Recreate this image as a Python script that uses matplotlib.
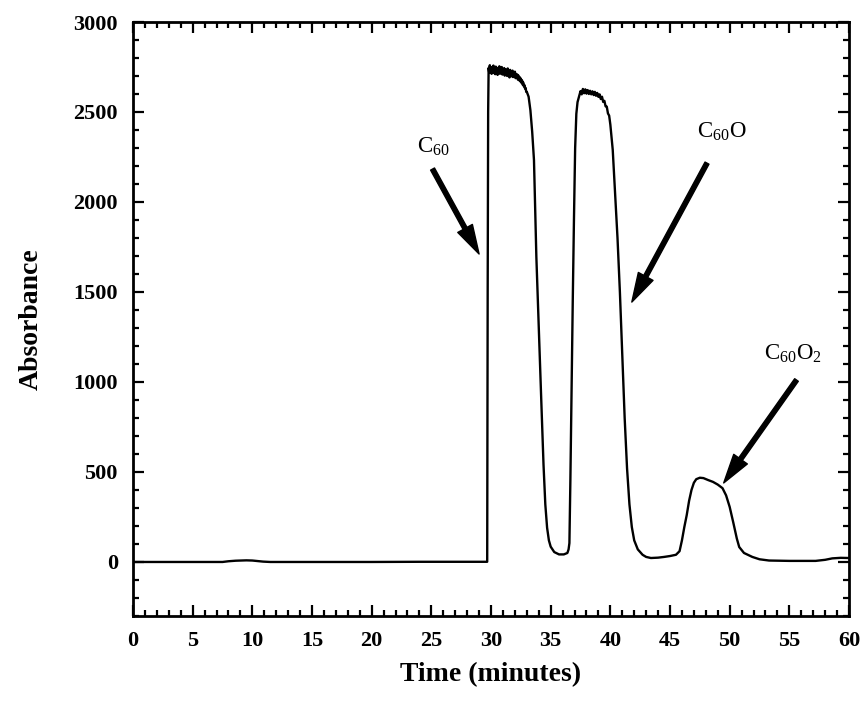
import numpy as np
import matplotlib
matplotlib.use("Agg")
import matplotlib.pyplot as plt

plt.rcParams['font.family'] = ['Liberation Serif', 'DejaVu Serif']
plt.rcParams['mathtext.default'] = 'regular'

# ---- chromatogram trace (time in minutes, absorbance) ----
base_t = [0, 7.5, 8.0, 8.6, 9.0, 9.5, 10.0, 10.5, 10.9, 11.5, 20.0, 24.0, 29.68]
base_a = [0, 0, 4, 7, 8, 9, 8, 5, 2, 0, 0, 1, 1]

rise1_t = [29.72, 29.76]
rise1_a = [1500, 2500]

# noisy top of the C60 peak, every 0.05 min from 29.80 to 33.00
top1_t = [29.8 + 0.05 * i for i in range(65)]
top1_a = [2745, 2718, 2760, 2722, 2750, 2712, 2748, 2730, 2758, 2716,
          2744, 2710, 2752, 2726, 2740, 2706, 2746, 2724, 2754, 2712,
          2742, 2718, 2750, 2708, 2736, 2720, 2744, 2702, 2738, 2712,
          2730, 2700, 2742, 2706, 2728, 2692, 2734, 2710, 2726, 2698,
          2730, 2694, 2720, 2700, 2724, 2688, 2712, 2690, 2708, 2680,
          2702, 2676, 2694, 2670, 2686, 2662, 2676, 2652, 2664, 2642,
          2650, 2630, 2634, 2612, 2612]

fall1_t = [33.15, 33.3, 33.45, 33.6, 33.7, 33.8, 34.0, 34.2, 34.4, 34.55,
           34.7, 34.85, 35.0, 35.3, 35.7, 36.1, 36.4, 36.5, 36.57, 36.65,
           36.75, 36.85, 36.95, 37.05, 37.15, 37.25, 37.35]
fall1_a = [2585, 2510, 2390, 2233, 1960, 1694, 1300, 920, 540, 320,
           190, 120, 85, 55, 42, 42, 50, 70, 105, 450,
           950, 1450, 1900, 2300, 2490, 2555, 2580]

# noisy top of the C60O peak, every 0.1 min from 37.4 to 40.0
top2_t = [37.4 + 0.1 * i for i in range(27)]
top2_a = [2592, 2616, 2598, 2628, 2604, 2626, 2602, 2622, 2600, 2618, 2598,
          2615, 2594, 2612, 2590, 2606, 2584, 2598, 2572, 2585, 2556, 2562,
          2532, 2530, 2492, 2480, 2430]

tail_t = [40.2, 40.4, 40.6, 40.8, 41.0, 41.2, 41.4, 41.6, 41.8, 42.0, 42.3,
          42.7, 43.0, 43.4, 44.0, 44.5, 45.0, 45.5, 45.8, 46.0, 46.2, 46.4,
          46.6, 46.8, 47.0, 47.2, 47.5, 47.8, 48.2, 48.6, 49.0, 49.4, 49.7,
          50.0, 50.3, 50.6, 50.8, 51.2, 51.9, 52.5, 53.3, 55.0, 57.2, 58.0,
          58.6, 59.3, 60.0]
tail_a = [2290, 2050, 1800, 1500, 1150, 800, 520, 320, 194, 120, 70,
          40, 28, 22, 24, 28, 33, 40, 60, 120, 194, 260,
          340, 400, 440, 460, 468, 466, 455, 445, 430, 410, 370,
          306, 220, 130, 83, 50, 28, 15, 8, 6, 6, 12,
          20, 23, 22]

time = np.array(base_t + rise1_t + top1_t + fall1_t + top2_t + tail_t)
absorb = np.array(base_a + rise1_a + top1_a + fall1_a + top2_a + tail_a)

# peak labels: (text, text position, arrow tail, arrow head)
labels = ['C$_{60}$', 'C$_{60}$O', 'C$_{60}$O$_2$']
text_xy = [(23.8, 2272), (47.3, 2355), (52.9, 1122)]
tail_xy = [(25.1, 2183), (48.1, 2216), (55.6, 1011)]
head_xy = [(29.0, 1711), (41.8, 1444), (49.5, 439)]

fig = plt.figure(figsize=(8.65, 7.03), dpi=100)
ax = fig.add_axes([0.1538, 0.1238, 0.8277, 0.8449])

ax.plot(time, absorb, color='black', lw=1.7)

for lab, txy, t0, h0 in zip(labels, text_xy, tail_xy, head_xy):
    ax.annotate('', xy=h0, xytext=t0,
                arrowprops=dict(facecolor='black', edgecolor='black',
                                width=3.2, headwidth=12, headlength=21,
                                shrink=0))
    ax.text(txy[0], txy[1], lab, fontsize=16.5, ha='left', va='baseline')

ax.set_xlim(0, 60)
ax.set_ylim(-300, 3000)
ax.set_xticks(np.arange(0, 61, 5))
ax.set_xticks(np.arange(0, 61, 1), minor=True)
ax.set_yticks(np.arange(0, 3001, 500))
ax.set_yticks(np.arange(-300, 3001, 100), minor=True)

ax.tick_params(which='both', direction='in', top=True, right=True,
               width=1.6, labelsize=16, pad=11)
ax.tick_params(which='major', length=8)
ax.tick_params(which='minor', length=4.5)
for lbl in ax.get_xticklabels() + ax.get_yticklabels():
    lbl.set_fontweight('bold')
for sp in ax.spines.values():
    sp.set_linewidth(2)

ax.set_xlabel('Time (minutes)', fontsize=20, fontweight='bold', labelpad=8)
ax.set_ylabel('Absorbance', fontsize=20, fontweight='bold', labelpad=21)

fig.savefig('out.png', dpi=100)
